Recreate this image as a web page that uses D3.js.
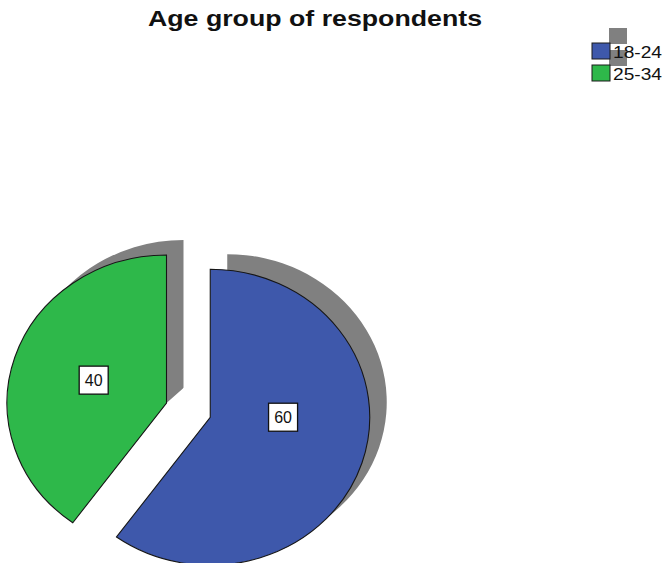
<!DOCTYPE html>
<html>
<head>
<meta charset="utf-8">
<script src="https://cdn.jsdelivr.net/npm/d3@7"></script>
<style>
  html, body { margin: 0; padding: 0; background: #fff; }
  svg { display: block; }
  text { font-family: "Liberation Sans", Arial, sans-serif; }
</style>
</head>
<body>
<svg id="chart" width="665" height="563"></svg>
<script>
// ---- data ----
const categories = ["18-24", "25-34"];
const values = [60, 40];
const colors = ["#3e58ab", "#2eb84a"];
const explode = [46, 0];
const title = "Age group of respondents";

// ---- layout ----
const cx = 166.5, cy = 403;
const ry = 148, rx = 159.5;
const k = rx / ry;
const shadow = { dx: 17, dy: -15, color: "#808080" };

const svg = d3.select("#chart");
const defs = svg.append("defs");
defs.append("filter").attr("id", "soft")
  .append("feGaussianBlur").attr("stdDeviation", 0.7);

const data = categories.map((c, i) => ({ cat: c, value: values[i], color: colors[i], explode: explode[i] }));

const pie = d3.pie().sort(null).value(d => d.value);
const arcs = pie(data);
const arc = d3.arc().innerRadius(0).outerRadius(ry);
const TAU = 2 * Math.PI;

function center(a) {
  const mid = (a.startAngle + a.endAngle) / 2;
  const e = a.data.explode;
  return [cx + e * Math.sin(mid), cy - e * Math.cos(mid)];
}

// shadow offset expressed in the (x-scaled) slice space
const sdx = shadow.dx / k, sdy = shadow.dy;
const shadowDir = Math.atan2(sdx, -sdy); // d3 angle convention (0 = up, clockwise)

// shadows (clipped to the slice wedge widened toward the shadow direction)
const shadowLayer = svg.append("g");
arcs.forEach((a, i) => {
  const [x, y] = center(a);
  let s = a.startAngle, e = a.endAngle;
  let d = shadowDir;
  while (d < s) d += TAU;
  if (d > e) {
    if (d - e <= (s + TAU) - d) e = d; else s = d - TAU;
  }
  const clipId = "sclip" + i;
  defs.append("clipPath").attr("id", clipId)
    .append("path")
    .attr("d", d3.arc().innerRadius(0).outerRadius(ry * 3).startAngle(s).endAngle(e)());
  shadowLayer.append("g")
    .attr("transform", `translate(${x},${y}) scale(${k},1)`)
    .append("g").attr("clip-path", `url(#${clipId})`)
    .append("path")
    .attr("transform", `translate(${sdx},${sdy})`)
    .attr("d", arc(a))
    .attr("fill", shadow.color)
    .attr("filter", "url(#soft)");
});

// slices
const sliceLayer = svg.append("g");
const sliceNodes = [];
arcs.forEach(a => {
  const [x, y] = center(a);
  const p = sliceLayer.append("g")
    .attr("transform", `translate(${x},${y}) scale(${k},1)`)
    .append("path")
    .attr("d", arc(a))
    .attr("fill", a.data.color)
    .attr("stroke", "#161616")
    .attr("stroke-width", 1.1)
    .attr("vector-effect", "non-scaling-stroke");
  sliceNodes.push(p.node());
});

// value labels
const labelLayer = svg.append("g");
arcs.forEach((a, i) => {
  const [x, y] = center(a);
  const mid = (a.startAngle + a.endAngle) / 2;
  const lx = x + 0.48 * rx * Math.sin(mid);
  const bb = sliceNodes[i].getBBox();
  const lyBox = y + bb.y + bb.height / 2;
  const lyMid = y - 0.5 * ry * Math.cos(mid);
  const ly = Math.min(lyBox, lyMid);
  const g = labelLayer.append("g").attr("transform", `translate(${lx},${ly})`);
  g.append("rect")
    .attr("x", -14.5).attr("y", -14).attr("width", 29).attr("height", 28)
    .attr("fill", "#fff").attr("stroke", "#111").attr("stroke-width", 1.3);
  g.append("text")
    .attr("text-anchor", "middle")
    .attr("dy", "0.36em")
    .attr("font-size", 16)
    .attr("fill", "#111")
    .text(a.data.value);
});

// title
svg.append("text")
  .attr("x", 315).attr("y", 26)
  .attr("text-anchor", "middle")
  .attr("font-size", 22)
  .attr("font-weight", "bold")
  .attr("fill", "#111")
  .attr("textLength", 334)
  .attr("lengthAdjust", "spacingAndGlyphs")
  .text(title);

// legend
const legend = svg.append("g").attr("transform", "translate(592,43)");
const sw = 18, sh = 16, step = 22;
data.forEach((d, i) => {
  legend.append("rect")
    .attr("x", shadow.dx).attr("y", i * step + shadow.dy)
    .attr("width", sw).attr("height", sh)
    .attr("fill", shadow.color);
});
data.forEach((d, i) => {
  legend.append("rect")
    .attr("x", 0).attr("y", i * step)
    .attr("width", sw).attr("height", sh)
    .attr("fill", d.color)
    .attr("stroke", "#1b1b1b").attr("stroke-width", 1);
});
data.forEach((d, i) => {
  legend.append("text")
    .attr("x", 21).attr("y", i * step + 15)
    .attr("font-size", 17)
    .attr("fill", "#111")
    .attr("textLength", 49)
    .attr("lengthAdjust", "spacingAndGlyphs")
    .text(d.cat);
});
</script>
</body>
</html>
